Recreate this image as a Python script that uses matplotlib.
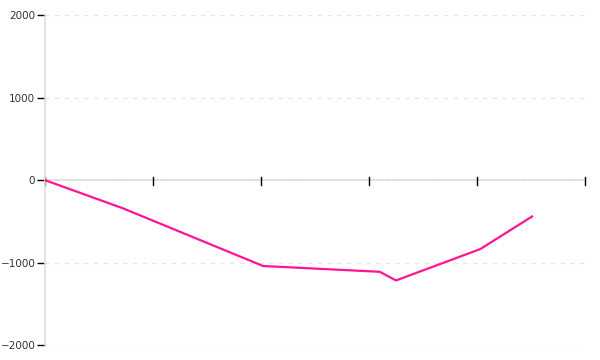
import numpy as np
import matplotlib
matplotlib.use('Agg')
import matplotlib.pyplot as plt

# data
x_vals = [0, 0.72, 2.02, 3.1, 3.25, 4.03, 4.51]
y_vals = [0, -340, -1040, -1110, -1215, -835, -440]
y_ticks = [-2000, -1000, 0, 1000, 2000]
x_ticks = [0, 1, 2, 3, 4, 5]

fig = plt.figure(figsize=(6, 3.6), dpi=100)
ax = fig.add_axes([0.075, 0.041, 0.9, 0.917])

# dashed light grid
for yt in y_ticks:
    ax.axhline(yt, color='#e6e6e6', linestyle=(0, (3, 4)), linewidth=1, zorder=0)

# x axis sits on y = 0
ax.axhline(0, color='#dddddd', linewidth=1.2, zorder=1)

ax.plot(x_vals, y_vals, color='#ff1493', linewidth=1.6, zorder=3)

ax.set_xlim(0, 5)
ax.set_ylim(-2000, 2000)

for s in ['top', 'right', 'bottom']:
    ax.spines[s].set_visible(False)
ax.spines['left'].set_color('#dddddd')
ax.spines['left'].set_linewidth(1.2)

ax.set_yticks(y_ticks)
ax.set_yticklabels([str(v).replace('-', '\u2212') for v in y_ticks])
ax.tick_params(axis='y', length=6, width=1, color='black', labelsize=7.5,
               labelcolor='#333333', pad=1)

# x ticks drawn as small crossing marks at y = 0, no labels
ax.set_xticks([])
for xt in x_ticks:
    ax.plot([xt, xt], [40, -60], color='black', linewidth=1, zorder=2,
            clip_on=False)

fig.savefig('out.png', dpi=100)
